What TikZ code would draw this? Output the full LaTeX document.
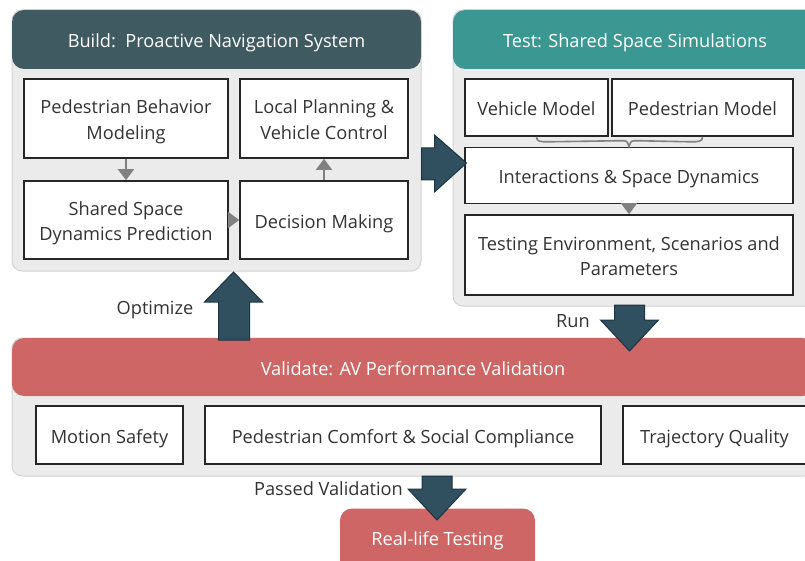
\documentclass[tikz,border=0pt]{standalone}
\usepackage{fontspec}
\setmainfont{Open Sans}
\usetikzlibrary{arrows.meta,calc}
\definecolor{panelfill}{HTML}{EBEBEB}
\definecolor{panelline}{HTML}{D4D4D4}
\definecolor{buildhead}{HTML}{3F5B61}
\definecolor{testhead}{HTML}{3A9791}
\definecolor{valhead}{HTML}{CD6664}
\definecolor{boxline}{HTML}{262626}
\definecolor{flowgray}{HTML}{808080}
\definecolor{arrowfill}{HTML}{30505F}
\definecolor{arrowline}{HTML}{1C3542}
\definecolor{textc}{HTML}{333333}
\newcommand\dfont{\fontsize{18.2}{25.5}\selectfont}
\newcommand\topstrut{\rule{0pt}{20.5pt}}
\newcommand\botstrut{\rule[-4pt]{0pt}{4pt}}
\tikzset{
  panel/.style={draw=panelline, fill=panelfill, rounded corners=10pt, line width=1pt, inner sep=0pt},
  plainhead/.style={fill=#1, rounded corners=12pt, text=white, font=\dfont, inner sep=0pt},
  header/.style={plainhead=#1, execute at begin node=\topstrut, execute at end node=\botstrut},
  box/.style={draw=boxline, fill=white, line width=1.6pt, align=center, font=\dfont, text=textc, inner sep=0pt,
    execute at begin node=\topstrut, execute at end node=\botstrut},
  flow/.style={draw=flowgray, line width=1.6pt, -{Triangle[width=16pt,length=11pt]}},
  bigarrow/.style={fill=arrowfill, draw=arrowline, line width=1pt, line join=miter},
  lbl/.style={font=\dfont, text=textc, inner sep=0pt}
}
\begin{document}
\begin{tikzpicture}[x=1pt,y=-1pt]
\useasboundingbox (0,0) rectangle (805,561);
\clip (0,0) rectangle (805,561);
\fill[white] (0,0) rectangle (805,561);
% panels
\node[panel, minimum width=409pt, minimum height=261pt] (buildp) at (216.5,140.5) {};
\node[header=buildhead, minimum width=409pt, minimum height=59pt] (buildh) at (216.5,39.5) {Build:\ \ Proactive Navigation System};
\node[panel, minimum width=364pt, minimum height=296pt] (testp) at (635,158) {};
\node[header=testhead, minimum width=364pt, minimum height=59pt] (testh) at (635,39.5) {Test: Shared Space Simulations};
\node[panel, minimum width=802pt, minimum height=138pt] (valp) at (413,407) {};
\node[header=valhead, minimum width=802pt, minimum height=58pt] (valh) at (413,367) {Validate: AV Performance Validation};
% build boxes
\node[box, minimum width=204pt, minimum height=79pt] (pbm) at (126,118.5) {\topstrut Pedestrian Behavior\\Modeling\botstrut};
\node[box, minimum width=168pt, minimum height=79pt] (lp) at (324,118.5) {\topstrut Local Planning \&\\Vehicle Control\botstrut};
\node[box, minimum width=204pt, minimum height=78pt] (ssdp) at (126,220) {\topstrut Shared Space\\Dynamics Prediction\botstrut};
\node[box, minimum width=168pt, minimum height=78pt] (dm) at (324,220) {Decision Making};
\draw[flow] (pbm.south) -- (ssdp.north);
\draw[flow] (ssdp.east) -- (dm.west);
\draw[flow] (dm.north) -- (lp.south);
% test boxes
\node[box, minimum width=143pt, minimum height=57pt] (vm) at (536.5,107.5) {Vehicle Model};
\node[box, minimum width=181pt, minimum height=57pt] (pm) at (702.5,107.5) {Pedestrian Model};
\node[box, minimum width=328pt, minimum height=56pt] (isd) at (629,175.5) {Interactions \& Space Dynamics};
\node[box, minimum width=328pt, minimum height=80pt] (ten) at (629,255) {\topstrut Testing Environment, Scenarios and\\Parameters\botstrut};
\draw[flowgray, line width=1.6pt]
  (vm.south) .. controls ($(vm.south)+(0,5)$) and ($(vm.south)+(4,5)$) .. ($(vm.south)+(12,5)$)
  -- ($(isd.north)+(-8,-6)$) .. controls ($(isd.north)+(-2,-6)$) .. (isd.north)
  .. controls ($(isd.north)+(2,-6)$) .. ($(isd.north)+(8,-6)$)
  -- ($(pm.south)+(-12,5)$) .. controls ($(pm.south)+(-4,5)$) and ($(pm.south)+(0,5)$) .. (pm.south);
\draw[flow] (isd.south) -- (ten.north);
% validate boxes
\node[box, minimum width=147pt, minimum height=58pt] (ms) at (109.5,435) {Motion Safety};
\node[box, minimum width=396pt, minimum height=58pt] (pc) at (403,435) {Pedestrian Comfort \& Social Compliance};
\node[box, minimum width=183pt, minimum height=58pt] (tq) at (714.5,435) {Trajectory Quality};
% real-life
\node[plainhead=valhead, minimum width=195pt, minimum height=64pt] (rl) at (437.5,540.5) {Real-life Testing};
% big arrows
\coordinate (a1) at (buildp.east|-0,163);
\draw[bigarrow] ($(a1)+(0,-15)$) -- ($(a1)+(13,-15)$) -- ($(a1)+(13,-28)$) -- ($(a1)+(45,0)$)
  -- ($(a1)+(13,29)$) -- ($(a1)+(13,17)$) -- ($(a1)+(0,17)$) -- cycle;
\coordinate (a2) at (233.5,340);
\draw[bigarrow] ($(a2)+(-15,0)$) -- ($(a2)+(-15,-38)$) -- ($(a2)+(-29,-38)$) -- ($(a2)+(0,-68)$)
  -- ($(a2)+(29,-38)$) -- ($(a2)+(16,-38)$) -- ($(a2)+(16,0)$) -- cycle;
\coordinate (a3) at (629.5,305);
\draw[bigarrow] ($(a3)+(-15,0)$) -- ($(a3)+(-15,15)$) -- ($(a3)+(-29,15)$) -- ($(a3)+(0,46)$)
  -- ($(a3)+(29,15)$) -- ($(a3)+(15,15)$) -- ($(a3)+(15,0)$) -- cycle;
\coordinate (a4) at (437,476);
\draw[bigarrow] ($(a4)+(-15,0)$) -- ($(a4)+(-15,13)$) -- ($(a4)+(-29,13)$) -- ($(a4)+(0,44)$)
  -- ($(a4)+(29,13)$) -- ($(a4)+(15,13)$) -- ($(a4)+(15,0)$) -- cycle;
% labels
\node[lbl] (opt) at (155,310) {Optimize};
\node[lbl] (run) at (573,321) {Run};
\node[lbl] (pv) at (328.5,489) {Passed Validation};
\end{tikzpicture}
\end{document}
